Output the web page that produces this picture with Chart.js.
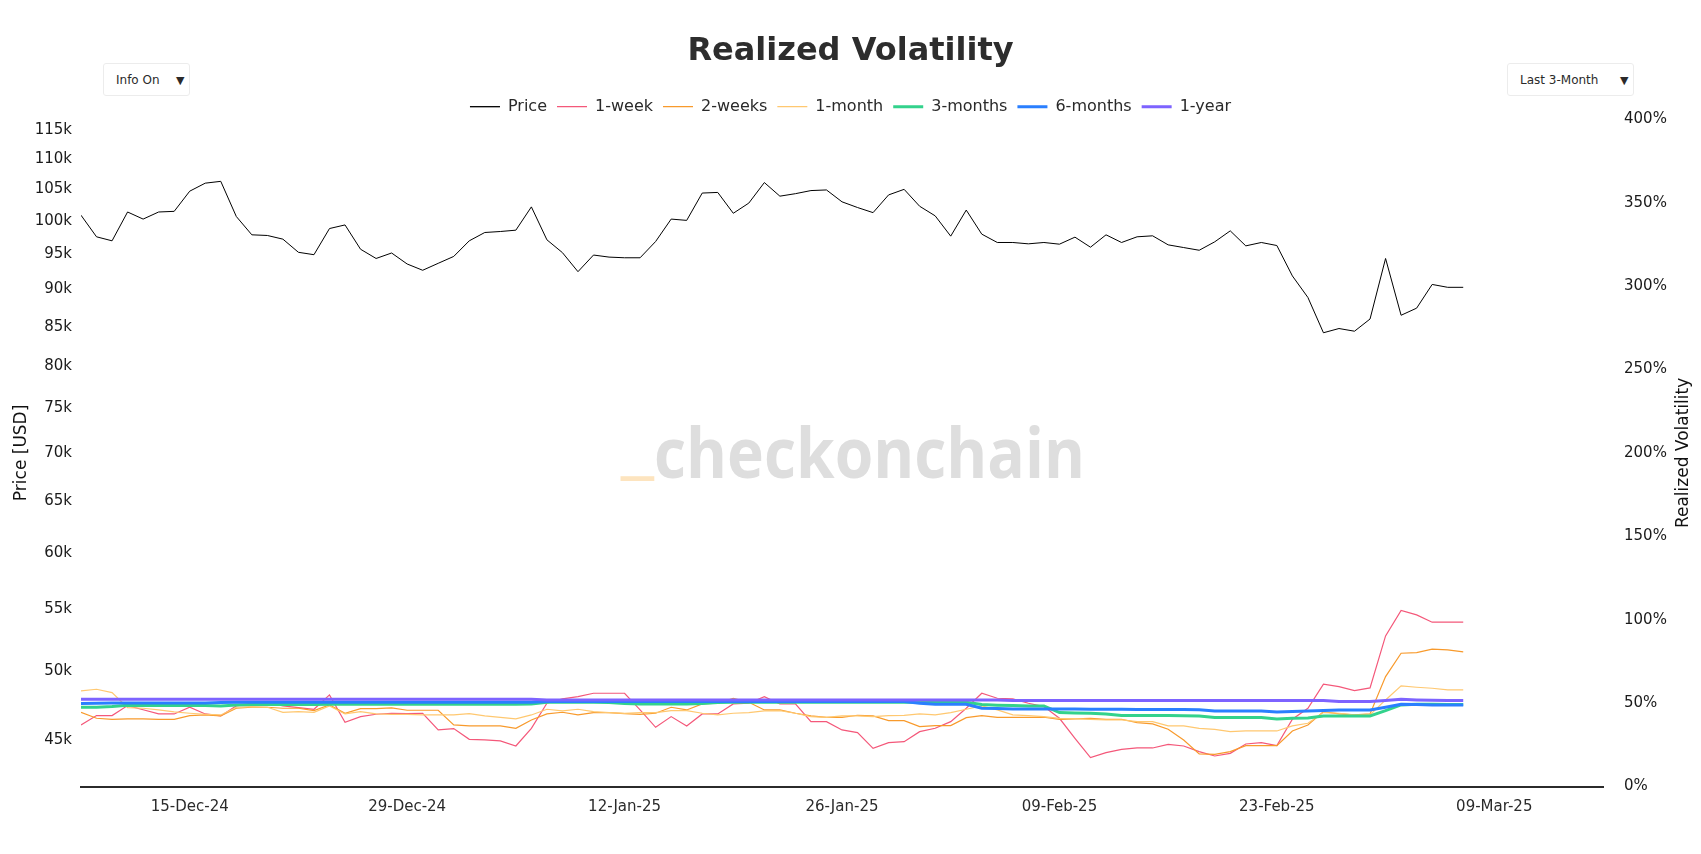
<!DOCTYPE html>
<html><head><meta charset="utf-8">
<script src="https://cdn.jsdelivr.net/npm/chart.js@4.4.1/dist/chart.umd.min.js"></script>
<style>
html,body{margin:0;padding:0;background:#fff;}
#wrap{position:relative;width:1701px;height:854px;overflow:hidden;}
canvas{position:absolute;left:0;top:0;}
.dd{position:absolute;box-sizing:border-box;border:1px solid #ececec;border-radius:3px;background:#fff;font-family:"DejaVu Sans",sans-serif;font-size:12px;color:#2a2a2a;}
.dd span{position:absolute;top:50%;transform:translateY(-50%);white-space:nowrap;}
</style></head><body>
<div id="wrap">
<canvas id="c" width="1701" height="854"></canvas>
<div class="dd" style="left:103px;top:63px;width:87px;height:33px;"><span style="left:12px">Info On</span><span style="left:72px;font-size:11px">▼</span></div>
<div class="dd" style="left:1507px;top:63px;width:127px;height:33px;"><span style="left:12px">Last 3-Month</span><span style="left:112px;font-size:11px">▼</span></div>
</div>
<script>
const dates = [
"2024-12-08","2024-12-09","2024-12-10","2024-12-11","2024-12-12","2024-12-13","2024-12-14","2024-12-15","2024-12-16","2024-12-17",
"2024-12-18","2024-12-19","2024-12-20","2024-12-21","2024-12-22","2024-12-23","2024-12-24","2024-12-25","2024-12-26","2024-12-27",
"2024-12-28","2024-12-29","2024-12-30","2024-12-31","2025-01-01","2025-01-02","2025-01-03","2025-01-04","2025-01-05","2025-01-06",
"2025-01-07","2025-01-08","2025-01-09","2025-01-10","2025-01-11","2025-01-12","2025-01-13","2025-01-14","2025-01-15","2025-01-16",
"2025-01-17","2025-01-18","2025-01-19","2025-01-20","2025-01-21","2025-01-22","2025-01-23","2025-01-24","2025-01-25","2025-01-26",
"2025-01-27","2025-01-28","2025-01-29","2025-01-30","2025-01-31","2025-02-01","2025-02-02","2025-02-03","2025-02-04","2025-02-05",
"2025-02-06","2025-02-07","2025-02-08","2025-02-09","2025-02-10","2025-02-11","2025-02-12","2025-02-13","2025-02-14","2025-02-15",
"2025-02-16","2025-02-17","2025-02-18","2025-02-19","2025-02-20","2025-02-21","2025-02-22","2025-02-23","2025-02-24","2025-02-25",
"2025-02-26","2025-02-27","2025-02-28","2025-03-01","2025-03-02","2025-03-03","2025-03-04","2025-03-05","2025-03-06","2025-03-07"];

const price = [
100900,97600,97000,101400,100300,101400,101500,104700,106000,106300,
100700,97900,97800,97250,95300,94950,98850,99400,95750,94400,
95200,93600,92700,93700,94700,97000,98250,98400,98600,102200,
97150,95250,92500,94900,94600,94500,94500,96900,100300,100100,
104400,104500,101200,102800,106100,103900,104300,104800,104900,103000,
102100,101300,104100,105000,102300,100800,97700,101700,98000,96750,
96750,96550,96750,96500,97550,96050,97900,96750,97600,97750,
96400,96000,95600,96850,98500,96250,96750,96300,91900,88900,
84200,84750,84400,86000,94400,86500,87450,90700,90300,90300];

const vol1w = [
36.9,42.5,42.5,48.5,46.0,43.5,43.5,47.5,43.5,42.3,
48.3,49.9,50.3,48.3,47.3,46.3,54.9,38.5,41.9,43.3,
43.9,43.7,43.9,33.9,34.7,28.3,27.9,27.3,24.3,34.9,
49.9,52.5,53.9,55.9,55.9,55.9,45.9,35.5,41.9,36.3,
43.5,43.5,49.5,49.9,53.9,49.5,49.5,38.9,38.9,33.9,
32.3,22.9,26.3,26.9,32.9,34.9,38.9,46.9,55.9,52.9,
52.5,49.9,47.9,40.9,28.9,17.3,20.3,22.3,23.1,23.1,
25.3,24.3,20.9,18.3,19.9,25.5,26.3,24.5,40.3,46.9,
61.3,59.9,57.5,59.1,90.3,105.5,102.9,98.5,98.5,98.5];

const vol2w = [
44.5,40.9,40.3,40.5,40.5,40.3,40.3,42.5,42.9,42.3,
46.9,47.5,47.5,46.9,46.9,45.5,48.9,43.9,46.7,46.7,
47.1,45.7,45.7,45.7,36.9,36.3,36.3,36.3,34.9,39.9,
43.5,44.5,42.9,44.3,44.3,43.7,43.3,43.9,47.5,45.9,
49.5,49.9,52.9,50.5,45.9,45.9,43.9,42.3,41.5,41.5,
42.7,42.3,39.5,39.5,35.9,36.5,36.5,41.3,42.5,41.5,
41.5,41.5,41.5,40.3,40.5,40.9,40.3,40.3,38.3,37.5,
34.3,27.9,19.5,19.3,20.9,24.5,24.5,24.5,33.3,36.9,
44.9,43.5,43.0,43.5,65.9,79.9,80.3,82.3,81.9,80.7];

const vol1m = [
57.3,58.3,56.3,47.3,46.9,45.9,44.7,43.9,43.3,42.9,
47.5,47.9,47.5,44.5,44.9,44.5,48.3,43.5,44.9,43.5,
43.3,43.3,42.9,42.9,42.9,43.7,42.3,41.5,40.5,42.9,
46.3,45.3,46.3,44.9,44.3,43.9,44.3,44.3,45.5,45.5,
43.9,42.9,43.9,44.3,45.3,45.5,43.9,41.9,41.5,42.3,
42.3,41.9,42.5,42.7,43.5,42.9,44.3,46.3,48.3,45.9,
42.9,42.5,41.9,40.9,40.7,40.3,39.9,39.9,38.9,38.9,
36.3,36.3,34.9,34.3,32.9,33.3,33.3,33.3,36.3,37.9,
44.3,43.9,42.9,42.9,51.9,60.3,59.5,58.9,57.9,57.9];

const vol3m = [
47.5,47.5,47.9,48.7,48.5,48.5,48.5,48.5,48.5,48.3,
48.9,49.1,49.1,49.1,49.1,49.1,49.3,49.3,49.3,49.3,
49.3,49.3,49.3,49.3,49.3,49.3,49.3,49.3,49.3,49.5,
50.5,50.5,50.5,50.5,50.3,49.7,49.5,49.5,49.5,49.5,
49.7,50.3,50.5,50.5,50.5,50.5,50.5,50.5,50.5,50.5,
50.5,50.5,50.5,50.5,50.5,50.5,50.5,50.5,49.1,48.7,
48.5,48.3,48.3,44.3,44.1,43.9,43.5,42.5,42.5,42.5,
42.5,42.4,42.3,41.3,41.3,41.3,41.3,40.5,40.9,41.1,
42.3,42.3,42.3,42.3,45.5,48.9,49.3,49.3,49.1,49.1];

const vol6m = [
49.7,49.9,50.0,50.0,50.0,50.0,50.1,50.1,50.1,50.3,
50.5,50.5,50.5,50.5,50.5,50.5,50.5,50.5,50.5,50.5,
50.5,50.5,50.5,50.5,50.5,50.5,50.5,50.5,50.5,50.5,
50.9,50.9,50.9,50.9,50.9,50.9,50.9,50.9,50.9,50.9,
50.9,50.9,50.9,50.9,50.9,50.9,50.9,50.9,50.9,50.9,
50.9,50.9,50.9,50.9,49.9,49.3,49.3,49.3,46.9,46.7,
46.5,46.5,46.5,46.4,46.4,46.3,46.3,46.3,46.2,46.2,
46.2,46.2,46.0,45.3,45.3,45.3,45.3,44.7,44.9,45.3,
45.6,45.9,45.9,45.9,47.5,49.3,49.1,48.9,48.9,48.9];

const vol1y = [
52.3,52.3,52.3,52.3,52.3,52.3,52.3,52.3,52.3,52.3,
52.3,52.3,52.3,52.3,52.3,52.3,52.3,52.3,52.3,52.3,
52.3,52.3,52.3,52.3,52.3,52.3,52.3,52.3,52.3,52.3,
51.9,51.9,51.9,51.9,51.9,51.9,51.9,51.9,51.9,51.9,
51.9,51.9,51.9,51.9,51.9,51.9,51.9,51.9,51.9,51.9,
51.9,51.9,51.9,51.9,51.9,51.9,51.9,51.9,51.9,51.9,
51.6,51.6,51.6,51.6,51.6,51.6,51.6,51.6,51.6,51.6,
51.6,51.6,51.6,51.6,51.6,51.6,51.6,51.6,51.6,51.6,
51.6,50.9,50.9,50.9,51.5,52.3,51.9,51.7,51.5,51.5];

const seriesNames = ["Price","1-week","2-weeks","1-month","3-months","6-months","1-year"];
const seriesColors = ["#000000","#f4587a","#f89a2c","#ffc870","#33d28c","#2a7fff","#7d63ff"];
const xRange = ["2024-12-08","2025-03-16"];
const xTickDates = ["2024-12-15","2024-12-29","2025-01-12","2025-01-26","2025-02-09","2025-02-23","2025-03-09"];
const priceTicks = [45000,50000,55000,60000,65000,70000,75000,80000,85000,90000,95000,100000,105000,110000,115000];
const priceRange = [41880,116950];
const volTicks = [0,50,100,150,200,250,300,350,400];

const DAY = 86400000;
const t0 = Date.parse(xRange[0]);
const dayOf = d => (Date.parse(d) - t0) / DAY;
const MONTHS = ["Jan","Feb","Mar","Apr","May","Jun","Jul","Aug","Sep","Oct","Nov","Dec"];
const fmtDate = v => { const d = new Date(t0 + Math.round(v) * DAY);
  return String(d.getUTCDate()).padStart(2,"0") + "-" + MONTHS[d.getUTCMonth()] + "-" + String(d.getUTCFullYear()).slice(2); };

const xs = dates.map(dayOf);
const pts = arr => arr.map((v, i) => ({x: xs[i], y: v}));
const allSeries = [price, vol1w, vol2w, vol1m, vol3m, vol6m, vol1y];
const widths = [1, 1.2, 1.2, 1.2, 3, 3, 3];

const datasets = allSeries.map((arr, i) => ({
  label: seriesNames[i],
  data: pts(arr),
  yAxisID: i === 0 ? "y" : "y1",
  borderColor: seriesColors[i],
  backgroundColor: seriesColors[i],
  borderWidth: widths[i],
  pointRadius: 0,
  tension: 0,
  order: 10 - i
}));

const FONT = "'DejaVu Sans', sans-serif";

const watermark = {
  id: "watermark",
  afterLayout(chart) {
    if (chart.legend) { chart.legend.top += 5.4; chart.legend.bottom += 5.4; }
  },
  beforeDatasetsDraw(chart) {
    const ctx = chart.ctx;
    ctx.save();
    ctx.font = "bold 70px 'Open Sans', sans-serif";
    ctx.textBaseline = "alphabetic";
    const w = ctx.measureText("checkonchain").width;
    const sx = 431 / w;
    ctx.translate(654, 478);
    ctx.scale(sx, 1);
    ctx.fillStyle = "#dedede";
    ctx.textAlign = "left";
    ctx.fillText("checkonchain", 0, 0);
    ctx.fillStyle = "#fde4bf";
    ctx.textAlign = "right";
    ctx.scale(1.3, 1);
    ctx.fillText("_", 0, -8);
    ctx.restore();
  },
  afterDraw(chart) {
    const ctx = chart.ctx, a = chart.chartArea;
    ctx.save();
    ctx.translate(1684, (a.top + a.bottom) / 2);
    ctx.rotate(-Math.PI / 2);
    ctx.font = "17px " + FONT;
    ctx.fillStyle = "#111";
    ctx.textAlign = "center";
    ctx.textBaseline = "middle";
    ctx.fillText("Realized Volatility", 0, 0);
    ctx.restore();
  }
};

new Chart(document.getElementById("c"), {
  type: "line",
  data: { datasets },
  plugins: [watermark],
  options: {
    responsive: false,
    animation: false,
    devicePixelRatio: 1,
    layout: { padding: { left: 0, right: 0, top: 0, bottom: 0 } },
    plugins: {
      title: {
        display: true, text: "Realized Volatility", color: "#2d2d2d",
        font: { family: FONT, size: 32, weight: "bold", lineHeight: 1.2 },
        padding: { top: 32, bottom: 12.9 }
      },
      legend: {
        display: true, position: "top",
        labels: { boxWidth: 30, boxHeight: 0, padding: 10, color: "#2a2a2a",
          sort: (a, b) => a.datasetIndex - b.datasetIndex,
          font: { family: FONT, size: 16 } }
      },
      tooltip: { enabled: false }
    },
    scales: {
      x: {
        type: "linear", min: dayOf(xRange[0]), max: dayOf(xRange[1]),
        grid: { display: false, drawTicks: false },
        border: { display: true, color: "#2b2b2b", width: 2 },
        afterBuildTicks: s => { s.ticks = xTickDates.map(d => ({ value: dayOf(d) })); },
        afterFit: s => { s.height = 67.5; },
        ticks: { autoSkip: false, maxRotation: 0, padding: 11.5, color: "#2a2a2a",
          font: { family: FONT, size: 15 }, callback: v => fmtDate(v) }
      },
      y: {
        type: "logarithmic", position: "left", min: priceRange[0], max: priceRange[1], bounds: "data",
        grid: { display: false, drawTicks: false }, border: { display: false },
        afterBuildTicks: s => { s.ticks = priceTicks.map(v => ({ value: v })); },
        afterFit: s => { s.width = 81; },
        title: { display: true, text: "Price [USD]", color: "#111",
          font: { family: FONT, size: 17 }, padding: { top: 11, bottom: 0 } },
        ticks: { autoSkip: false, padding: 9, color: "#1a1a1a",
          font: { family: FONT, size: 15 }, callback: v => (v / 1000) + "k" }
      },
      y1: {
        type: "linear", position: "right", min: 0, max: 400,
        grid: { display: false, drawTicks: false }, border: { display: false },
        afterBuildTicks: s => { s.ticks = volTicks.map(v => ({ value: v })); },
        afterFit: s => { s.width = 98; },
        ticks: { autoSkip: false, padding: 21, color: "#1a1a1a",
          font: { family: FONT, size: 15 }, callback: v => v + "%" }
      }
    }
  }
});
</script>
</body></html>
